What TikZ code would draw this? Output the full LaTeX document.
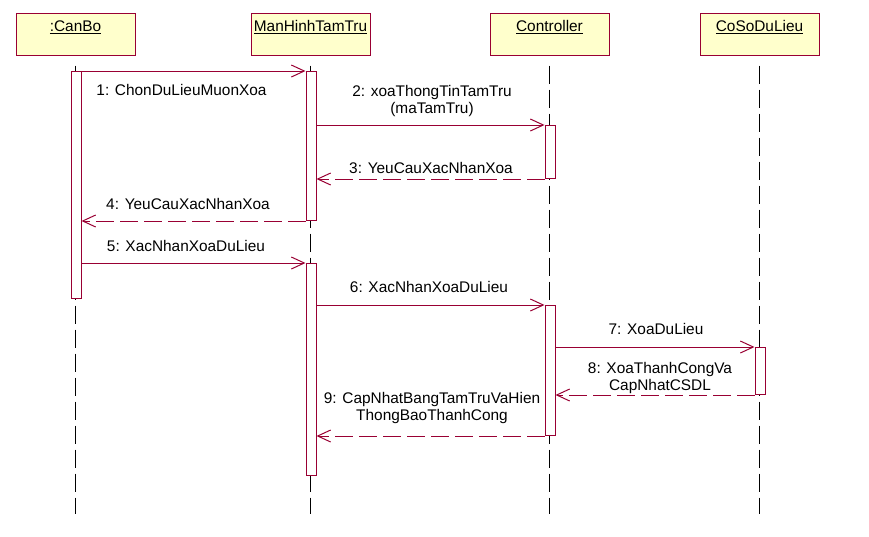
\documentclass[tikz,border=0pt]{standalone}
\usepackage{fontspec}
\setmainfont{Liberation Sans}
\usetikzlibrary{arrows.meta,positioning}
\definecolor{rosered}{RGB}{153,0,51}
\definecolor{roseyellow}{RGB}{255,255,204}
\tikzset{
  objbox/.style={
    draw=rosered,
    fill=roseyellow,
    line width=1pt,
    minimum width=119pt,
    minimum height=42pt,
    inner sep=0pt
  },
  objname/.style={
    font=\fontsize{15.4}{17}\selectfont,
    inner sep=0pt
  },
  lifeline/.style={
    draw=black,
    line width=1pt,
    dash pattern=on 18pt off 6pt
  },
  actbar/.style={
    draw=rosered,
    fill=white,
    line width=1pt,
    minimum width=10pt,
    inner sep=0pt,
    anchor=north
  },
  callmsg/.style={
    draw=rosered,
    line width=1pt,
    -{Straight Barb[length=13pt,width=12pt]}
  },
  returnmsg/.style={
    callmsg,
    dash pattern=on 18pt off 6pt
  },
  msglabel/.style={
    font=\fontsize{15.4}{17}\selectfont,
    align=center,
    inner sep=0pt
  }
}

\begin{document}
\begin{tikzpicture}[x=1pt, y=-1pt]
  \useasboundingbox (0,0) rectangle (869,536);

  % objects
  \node[objbox] (canbo) at (75.5,34) {};
  \node[objbox] (manhinh) at (310.5,34) {};
  \node[objbox] (controller) at (549.5,34) {};
  \node[objbox] (cosodl) at (759.5,34) {};
  \node[objname, below=8pt of canbo.north] (canbotxt) {\underline{:CanBo}};
  \node[objname, below=8pt of manhinh.north] (manhinhtxt) {\underline{ManHinhTamTru}};
  \node[objname, below=8pt of controller.north] (controllertxt) {\underline{Controller}};
  \node[objname, below=8pt of cosodl.north] (cosodltxt) {\underline{CoSoDuLieu}};

  % lifelines
  \draw[lifeline] ([yshift=-10pt]canbo.south) -- ++(0,448);
  \draw[lifeline] ([yshift=-10pt]manhinh.south) -- ++(0,448);
  \draw[lifeline] ([yshift=-10pt]controller.south) -- ++(0,448);
  \draw[lifeline] ([yshift=-10pt]cosodl.south) -- ++(0,448);

  % activations
  \node[actbar, minimum height=227pt] (cb1) at (76,71) {};
  \node[actbar, minimum height=149pt] (mh1) at (311,71) {};
  \node[actbar, minimum height=53pt] (ct1) at (550,125) {};
  \node[actbar, minimum height=212pt] (mh2) at (311,263) {};
  \node[actbar, minimum height=130pt] (ct2) at (550,305) {};
  \node[actbar, minimum height=47pt] (cs1) at (760,347) {};

  % messages
  \draw[callmsg] (cb1.north east) -- (mh1.north west);
  \draw[callmsg] (mh1.east |- ct1.north) -- (ct1.north west);
  \draw[returnmsg] (ct1.south west) -- (mh1.east |- ct1.south);
  \draw[returnmsg] (mh1.south west) -- (cb1.east |- mh1.south);
  \draw[callmsg] (cb1.east |- mh2.north) -- (mh2.north west);
  \draw[callmsg] (mh2.east |- ct2.north) -- (ct2.north west);
  \draw[callmsg] (ct2.east |- cs1.north) -- (cs1.north west);
  \draw[returnmsg] (cs1.south west) -- (ct2.east |- cs1.south);
  \draw[returnmsg] (ct2.south west) -- (mh2.east |- ct2.south);

  \node[msglabel] (lbl1) at (181.5,90) {1: ChonDuLieuMuonXoa};
  \node[msglabel] (lbl2) at (432,101) {2: xoaThongTinTamTru\\(maTamTru)};
  \node[msglabel] (lbl3) at (431,168) {3: YeuCauXacNhanXoa};
  \node[msglabel] (lbl4) at (188,204) {4: YeuCauXacNhanXoa};
  \node[msglabel] (lbl5) at (186,246) {5: XacNhanXoaDuLieu};
  \node[msglabel] (lbl6) at (429,287) {6: XacNhanXoaDuLieu};
  \node[msglabel] (lbl7) at (656,329) {7: XoaDuLieu};
  \node[msglabel] (lbl8) at (660,378) {8: XoaThanhCongVa\\CapNhatCSDL};
  \node[msglabel] (lbl9) at (432,408.5) {9: CapNhatBangTamTruVaHien\\ThongBaoThanhCong};
\end{tikzpicture}
\end{document}
